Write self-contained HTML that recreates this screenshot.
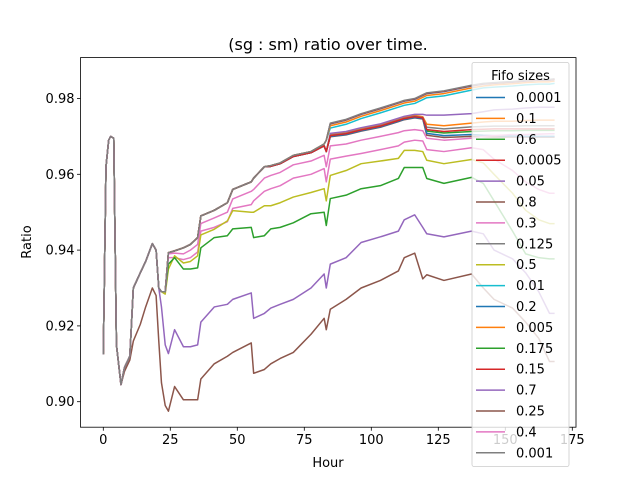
<!DOCTYPE html>
<html><head><meta charset="utf-8"><style>
html,body{margin:0;padding:0;background:#fff;}
svg{display:block;font-family:"DejaVu Sans","Liberation Sans",sans-serif;}
</style></head><body>
<svg id="chart" width="640" height="480" viewBox="0 0 640 480">
<rect width="640" height="480" fill="#fff"/>
<text x="328" y="50" font-size="16" text-anchor="middle" fill="#000">(sg : sm) ratio over time.</text>
<g id="plot"></g>
<g id="axes"></g>
<g id="legend"></g>
<text x="328" y="467" font-size="13" text-anchor="middle">Hour</text>
<text x="0" y="0" font-size="13" text-anchor="middle" transform="translate(31,242) rotate(-90)">Ratio</text>
</svg>
<script>
const hoursEarly=[0,1,2,2.7,3.9,4.9,6.6,7.9,9.9,11.2,13.8,15.8,18.3,19.7,20.7];
const hoursMid=[21.7,23.1,24.3,26.6,29.9,32.5,35.2,36.4,41.4,46.3,48.3,55.2,56.1,60.1,62.5,66,70.9,77.5,82.4];
const hoursTail=[83.2,84.7,90.6,96.2,103.4,110.1,112.3,116.2,119.2,120.7,127.1,137.4,141.8,145.8,152.7,157.6,162.5,166.5,168.4];
const xTicks=[0,25,50,75,100,125,150,175];
const yTicks=[0.90,0.92,0.94,0.96,0.98];
const yTickLabels=["0.90","0.92","0.94","0.96","0.98"];

const early=[0.9125,0.962,0.969,0.970,0.9695,0.915,0.9045,0.909,0.912,0.930,0.934,0.937,0.9417,0.940,0.930];
const midTop=[0.929,0.929,0.9393,0.9398,0.9406,0.9415,0.9433,0.949,0.9505,0.9525,0.956,0.958,0.959,0.962,0.9623,0.963,0.965,0.966,0.968];
const midGroup=[0.929,0.929,0.9393,0.9398,0.9406,0.9415,0.9433,0.949,0.9505,0.9525,0.956,0.958,0.959,0.962,0.9621,0.9628,0.9647,0.9657,0.9675];

const tail_0001=[0.969,0.9733,0.9743,0.9758,0.9773,0.9788,0.9793,0.9798,0.9808,0.9813,0.9818,0.9833,0.9838,0.984,0.9843,0.9846,0.9848,0.9848,0.985];
const tail_0005=[0.969,0.9734,0.9744,0.9759,0.9774,0.9789,0.9794,0.9799,0.9809,0.9814,0.9819,0.9834,0.9839,0.9841,0.9844,0.9847,0.9849,0.9849,0.9851];
const tail_001=[0.969,0.9735,0.9745,0.976,0.9775,0.979,0.9795,0.980,0.981,0.9815,0.982,0.9835,0.984,0.9842,0.9845,0.9848,0.985,0.985,0.9852];
const tail_005=[0.969,0.9728,0.9738,0.9753,0.9768,0.9783,0.9788,0.9793,0.9803,0.9808,0.9813,0.9828,0.9833,0.9836,0.9839,0.9842,0.9844,0.9844,0.9846];
const tail_01=[0.969,0.9722,0.9732,0.9747,0.9762,0.9777,0.9782,0.9787,0.9797,0.9802,0.9807,0.9822,0.9828,0.983,0.9833,0.9836,0.9838,0.9838,0.984];
const tail_05=[0.966,0.9708,0.9713,0.9723,0.9733,0.9748,0.9753,0.9758,0.9758,0.9756,0.9756,0.976,0.9765,0.977,0.9772,0.9775,0.9777,0.9777,0.9777];
const tail_1=[0.966,0.9705,0.971,0.972,0.973,0.9745,0.975,0.9755,0.9752,0.9732,0.9728,0.9735,0.9738,0.974,0.974,0.9742,0.9743,0.9743,0.9743];
const tail_125=[0.966,0.9703,0.9708,0.9718,0.9728,0.9743,0.9748,0.9753,0.975,0.9724,0.972,0.9725,0.9726,0.9727,0.9727,0.9728,0.9728,0.9728,0.9728];
const tail_15=[0.966,0.9702,0.9707,0.9717,0.9727,0.9742,0.9747,0.9752,0.9749,0.9718,0.9713,0.9718,0.9719,0.972,0.972,0.972,0.972,0.972,0.972];
const tail_6=[0.966,0.9701,0.9706,0.9716,0.9726,0.9741,0.9746,0.9751,0.9748,0.9714,0.9709,0.9713,0.9714,0.9715,0.9715,0.9716,0.9716,0.9716,0.9716];
const tail_2=[0.966,0.9700,0.9705,0.9715,0.9725,0.974,0.9745,0.975,0.9747,0.9708,0.9702,0.9705,0.9703,0.9702,0.9701,0.970,0.970,0.970,0.970];
const tail_8=[0.966,0.9699,0.9704,0.9714,0.9724,0.9739,0.9744,0.9749,0.9746,0.9703,0.9697,0.970,0.9699,0.9698,0.9698,0.9698,0.9698,0.9698,0.9698];

const pink04=[0.929,0.929,0.939,0.9392,0.939,0.940,0.9415,0.947,0.9485,0.950,0.9535,0.9555,0.956,0.959,0.9597,0.9605,0.9625,0.9635,0.965,0.962,0.9675,0.968,0.969,0.970,0.971,0.9715,0.9718,0.9715,0.9695,0.969,0.9695,0.970,0.9702,0.9705,0.9705,0.9706,0.9707,0.9707];
const pink03=[0.929,0.929,0.938,0.938,0.9375,0.938,0.9395,0.945,0.946,0.9475,0.951,0.952,0.953,0.9555,0.9562,0.957,0.959,0.960,0.9615,0.958,0.964,0.9648,0.9655,0.9665,0.9675,0.9685,0.969,0.9688,0.9665,0.966,0.967,0.9665,0.964,0.961,0.958,0.956,0.955,0.955];
const olive05=[0.929,0.9284,0.935,0.9385,0.9366,0.937,0.9385,0.944,0.9455,0.9477,0.9504,0.950,0.950,0.9517,0.9517,0.9525,0.954,0.9552,0.9562,0.953,0.9597,0.961,0.9628,0.9635,0.9642,0.9663,0.9663,0.966,0.9637,0.9628,0.9639,0.963,0.960,0.955,0.9505,0.948,0.947,0.947];
const green175=[0.929,0.929,0.9363,0.938,0.935,0.935,0.9353,0.9406,0.9433,0.9438,0.9456,0.946,0.9433,0.9438,0.9456,0.946,0.9472,0.9496,0.950,0.9465,0.9536,0.9545,0.9562,0.957,0.9589,0.9618,0.9618,0.9618,0.9589,0.9576,0.9592,0.9576,0.953,0.945,0.939,0.938,0.9377,0.9377];
const purple07=[0.925,0.915,0.9127,0.919,0.9145,0.9145,0.915,0.921,0.925,0.9257,0.927,0.9287,0.922,0.9233,0.9247,0.9257,0.927,0.930,0.9337,0.930,0.9363,0.938,0.942,0.9435,0.945,0.948,0.9493,0.946,0.9443,0.9435,0.945,0.9443,0.940,0.9377,0.934,0.929,0.9233,0.9233];
const brown25=[0.9125,0.962,0.969,0.970,0.9695,0.915,0.9045,0.908,0.911,0.916,0.9204,0.925,0.930,0.928,0.916,0.905,0.899,0.8975,0.904,0.9005,0.9005,0.9005,0.906,0.910,0.912,0.913,0.9155,0.9075,0.9085,0.910,0.9114,0.913,0.9178,0.922,0.919,0.9244,0.927,0.930,0.932,0.9345,0.938,0.9392,0.9324,0.9335,0.932,0.9337,0.930,0.927,0.9247,0.921,0.9167,0.9106,0.9106];

const labels=["0.0001","0.1","0.6","0.0005","0.05","0.8","0.3","0.125","0.5","0.01","0.2","0.005","0.175","0.15","0.7","0.25","0.4","0.001"];
const colors=["#1f77b4","#ff7f0e","#2ca02c","#d62728","#9467bd","#8c564b","#e377c2","#7f7f7f","#bcbd22","#17becf","#1f77b4","#ff7f0e","#2ca02c","#d62728","#9467bd","#8c564b","#e377c2","#7f7f7f"];
const seriesValues=[
 early.concat(midTop,tail_0001),
 early.concat(midGroup,tail_1),
 early.concat(midGroup,tail_6),
 early.concat(midTop,tail_0005),
 early.concat(midGroup,tail_05),
 early.concat(midGroup,tail_8),
 early.concat(pink03),
 early.concat(midGroup,tail_125),
 early.concat(olive05),
 early.concat(midTop,tail_01),
 early.concat(midGroup,tail_2),
 early.concat(midTop,tail_005),
 early.concat(green175),
 early.concat(midGroup,tail_15),
 early.concat(purple07),
 brown25,
 early.concat(pink04),
 early.concat(midTop,tail_001)
];

const NS="http://www.w3.org/2000/svg";
const AX={l:80.5,r:576,t:57.6,b:427.2};
function xs(h){return 103.3+h*2.68;}
function ys(v){return 401.7-(v-0.90)*3790;}
const hours=hoursEarly.concat(hoursMid,hoursTail);
function mk(tag,attrs,parent){const e=document.createElementNS(NS,tag);for(const k in attrs)e.setAttribute(k,attrs[k]);parent.appendChild(e);return e;}

const plot=document.getElementById('plot');
const clip=mk('clipPath',{id:'clipax'},plot);
mk('rect',{x:AX.l,y:AX.t,width:AX.r-AX.l,height:AX.b-AX.t},clip);
const lines=mk('g',{'clip-path':'url(#clipax)'},plot);
seriesValues.forEach((vals,i)=>{
  const pts=vals.map((v,j)=>xs(hours[j]).toFixed(2)+','+ys(v).toFixed(2)).join(' ');
  const p=mk('polyline',{points:pts,fill:'none',stroke:colors[i],'stroke-width':1.5,'stroke-linejoin':'round'},lines);
  
  
});

const axes=document.getElementById('axes');
const frame=mk('rect',{x:AX.l,y:AX.t,width:AX.r-AX.l,height:AX.b-AX.t,fill:'none',stroke:'#000','stroke-width':0.8},axes);


xTicks.forEach(t=>{
  const x=xs(t);
  mk('line',{x1:x,x2:x,y1:AX.b,y2:AX.b+3.5,stroke:'#000','stroke-width':0.8},axes);
  const tx=mk('text',{x:x,y:AX.b+17,'font-size':13,'text-anchor':'middle'},axes);
  tx.textContent=String(t);
  
  
});
yTicks.forEach((t,i)=>{
  const y=ys(t);
  mk('line',{x1:AX.l-3.5,x2:AX.l,y1:y,y2:y,stroke:'#000','stroke-width':0.8},axes);
  const tx=mk('text',{x:AX.l-6,y:y+4.5,'font-size':13,'text-anchor':'end'},axes);
  tx.textContent=yTickLabels[i];
  
  
});

const lg=document.getElementById('legend');
const box=mk('rect',{x:472,y:62.5,width:97,height:404,rx:2,fill:'#fff','fill-opacity':0.8,stroke:'#ccc','stroke-width':0.8},lg);


const lt=mk('text',{x:520.5,y:80,'font-size':13,'text-anchor':'middle'},lg);
lt.textContent='Fifo sizes';


labels.forEach((lab,i)=>{
  const y=97.5+i*20.9;
  const g=mk('g',{},lg);
  
  
  mk('line',{x1:476,x2:505,y1:y,y2:y,stroke:colors[i],'stroke-width':1.5},g);
  const t=mk('text',{x:516,y:y+4.5,'font-size':13},g);
  t.textContent=lab;
});
</script>
</body></html>
